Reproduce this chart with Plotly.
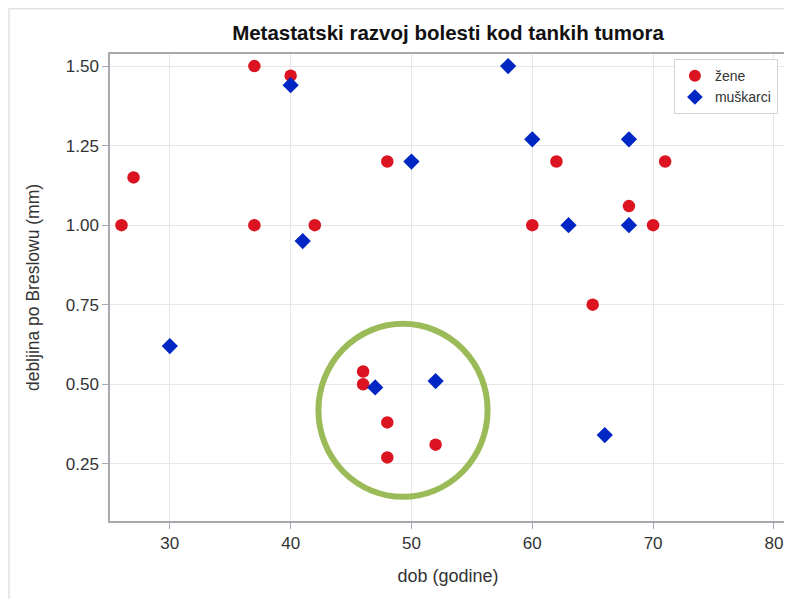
"""Scatter: Breslow thickness vs. age, by sex."""

import plotly.graph_objects as go

TITLE = "Metastatski razvoj bolesti kod tankih tumora"

# zene (women)
ZENE_DOB = [26, 27, 37, 37, 40, 42, 48, 46, 46, 48, 48, 52, 60, 62, 65, 68, 70, 71]
ZENE_DEBLJINA = [1.00, 1.15, 1.50, 1.00, 1.47, 1.00, 1.20, 0.54, 0.50, 0.38, 0.27,
                 0.31, 1.00, 1.20, 0.75, 1.06, 1.00, 1.20]

# muskarci (men)
MUSKARCI_DOB = [30, 40, 41, 47, 50, 52, 58, 60, 63, 66, 68, 68]
MUSKARCI_DEBLJINA = [0.62, 1.44, 0.95, 0.49, 1.20, 0.51, 1.50, 1.27, 1.00, 0.34,
                     1.27, 1.00]

X_TICKS = [30, 40, 50, 60, 70, 80]
Y_TICKS = [0.25, 0.50, 0.75, 1.00, 1.25, 1.50]
Y_TICK_TEXT = ["0.25", "0.50", "0.75", "1.00", "1.25", "1.50"]

# highlighted cluster (green ring)
HIGHLIGHT_X = [42.3, 56.3]
HIGHLIGHT_Y = [0.146, 0.690]

FONT = "Liberation Sans, Arial, sans-serif"
RED = "#DC1421"
BLUE = "#0026C4"
GREEN = "#9BBB59"

# the page body adds 8px around the figure, so the figure is 8px smaller
W, H = 784, 591
ML, MR, MT, MB = 102, 4, 46, 78
PW, PH = W - ML - MR, H - MT - MB

fig = go.Figure()

fig.add_trace(go.Scatter(
    x=ZENE_DOB, y=ZENE_DEBLJINA, mode="markers", name="žene",
    marker=dict(symbol="circle", size=12.5, color=RED),
))
fig.add_trace(go.Scatter(
    x=MUSKARCI_DOB, y=MUSKARCI_DEBLJINA, mode="markers", name="muškarci",
    marker=dict(symbol="diamond", size=12.5, color=BLUE),
))

fig.add_shape(
    type="circle", xref="x", yref="y",
    x0=HIGHLIGHT_X[0], x1=HIGHLIGHT_X[1], y0=HIGHLIGHT_Y[0], y1=HIGHLIGHT_Y[1],
    line=dict(color=GREEN, width=6),
)

# faint outer frame around the whole graphic
fig.add_shape(
    type="rect", xref="paper", yref="paper",
    x0=-(ML - 0.75) / PW, x1=1 + (MR + 20) / PW,
    y0=-(MB + 20) / PH, y1=1 + (MT - 0.75) / PH,
    line=dict(color="#E2E2E2", width=1.5), layer="below",
)

fig.update_layout(
    width=W,
    height=H,
    paper_bgcolor="white",
    plot_bgcolor="white",
    margin=dict(l=ML, r=MR, t=MT, b=MB),
    font=dict(family=FONT, size=17, color="#333333"),
    title=dict(
        text="<b>" + TITLE + "</b>",
        xref="paper", x=0.5, xanchor="center",
        y=1 - 25 / H, yanchor="middle",
        font=dict(family=FONT, size=20.5, color="#111111"),
    ),
    showlegend=True,
    legend=dict(
        x=0.988, xanchor="right", y=0.989, yanchor="top",
        bgcolor="white", bordercolor="#D4D4D4", borderwidth=1,
        font=dict(family=FONT, size=14, color="#333333"),
        tracegroupgap=0, itemsizing="constant", itemwidth=30,
    ),
)

fig.update_xaxes(
    range=[25.05, 81.0],
    tickvals=X_TICKS,
    showgrid=True, gridcolor="#E6E6E6", gridwidth=1,
    showline=True, linecolor="#A6AAAE", linewidth=1.5, mirror=True,
    ticks="outside", ticklen=6, tickcolor="#A6AAAE",
    zeroline=False,
    title=dict(text="dob (godine)", standoff=17, font=dict(size=18)),
    tickfont=dict(size=17),
)
fig.update_yaxes(
    range=[0.07, 1.538],
    tickvals=Y_TICKS, ticktext=Y_TICK_TEXT,
    showgrid=True, gridcolor="#E6E6E6", gridwidth=1,
    showline=True, linecolor="#A6AAAE", linewidth=1.5, mirror=True,
    ticks="outside", ticklen=6, tickcolor="#A6AAAE",
    zeroline=False,
    title=dict(text="debljina po Breslowu (mm)", standoff=22, font=dict(size=17.5)),
    tickfont=dict(size=17),
)

fig.write_html("out.html")
